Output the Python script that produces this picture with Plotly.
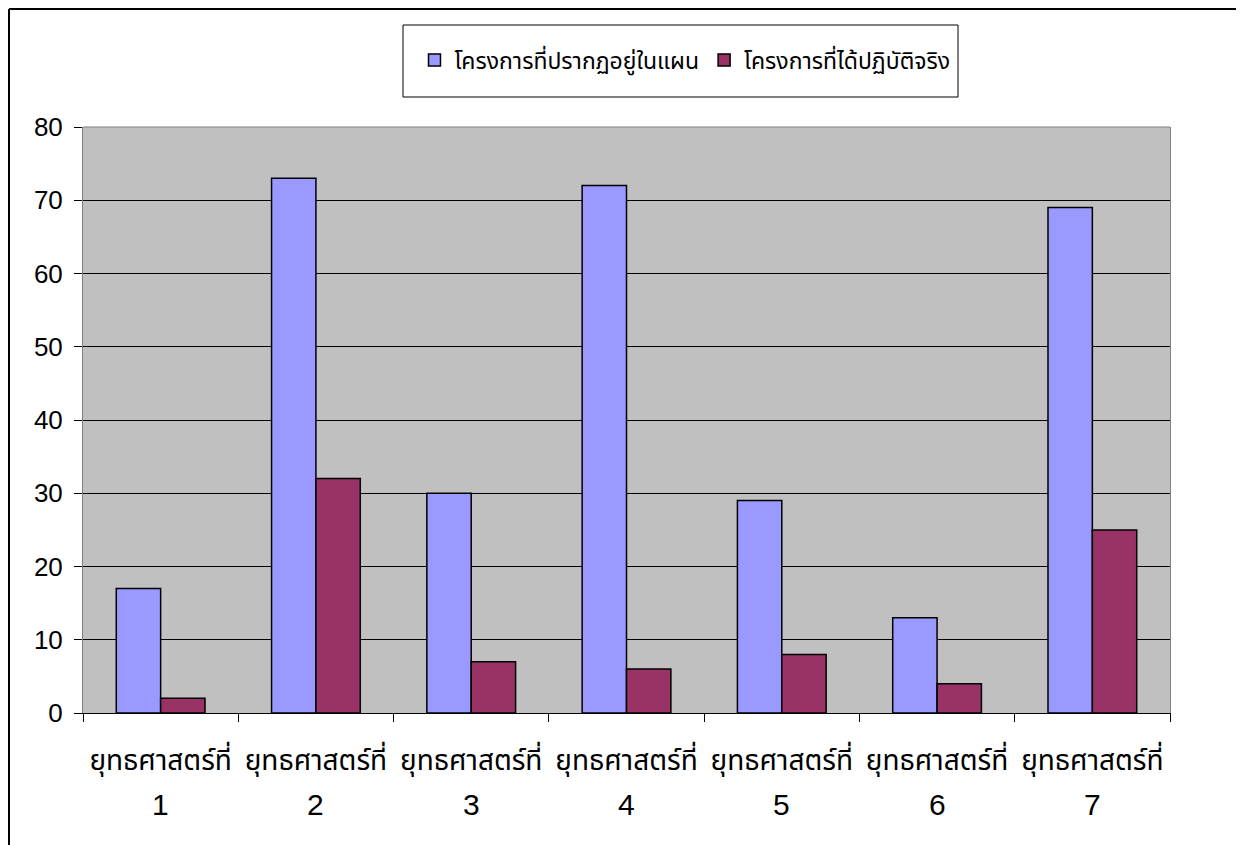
import plotly.graph_objects as go

strategy_label = "ยุทธศาสตร์ที่"
strategy_numbers = ["1", "2", "3", "4", "5", "6", "7"]
categories = [f"{strategy_label} {n}" for n in strategy_numbers]
series_names = ["โครงการที่ปรากฏอยู่ในแผน", "โครงการที่ได้ปฏิบัติจริง"]
planned = [17, 73, 30, 72, 29, 13, 69]
implemented = [2, 32, 7, 6, 8, 4, 25]
y_ticks = [0, 10, 20, 30, 40, 50, 60, 70, 80]

thai_font = "Noto Sans Thai, Tahoma, Liberation Sans, sans-serif"

# page geometry (the figure is drawn 8px in from the page corner)
W, H = 1236, 837
L, R, T, B = 75, 74, 119, 132
PW, PH = W - L - R, H - T - B


def px(xf):  # figure x pixel -> paper
    return (xf - L) / PW


def py(yf):  # figure y pixel -> paper
    return (H - B - yf) / PH


fig = go.Figure()
fig.add_trace(go.Bar(x=categories, y=planned, name=series_names[0],
                     marker=dict(color="#9999FF", line=dict(color="black", width=1.5))))
fig.add_trace(go.Bar(x=categories, y=implemented, name=series_names[1],
                     marker=dict(color="#993366", line=dict(color="black", width=1.5))))

fig.update_layout(
    width=W, height=H,
    margin=dict(l=L, r=R, t=T, b=B, autoexpand=False),
    paper_bgcolor="white", plot_bgcolor="#C0C0C0",
    barmode="group", bargap=0.4286, bargroupgap=0,
    font=dict(family="Liberation Sans, Arial, sans-serif", color="black"),
    legend=dict(orientation="h", x=px(685 - 8), xanchor="center",
                y=py(60 - 8), yanchor="middle",
                bgcolor="rgba(0,0,0,0)", borderwidth=0,
                font=dict(family=thai_font, size=23), itemwidth=30,
                traceorder="normal"),
    showlegend=True,
)
fig.update_xaxes(type="category", tickson="boundaries", ticks="outside", ticklen=8,
                 tickcolor="black", showline=True, linecolor="black", linewidth=1,
                 tickmode="array", tickvals=categories,
                 ticktext=[strategy_label] * len(categories),
                 tickfont=dict(family=thai_font, size=28), showgrid=False,
                 tickangle=0, automargin=False, ticklabelstandoff=22)
fig.update_yaxes(range=[0, 80], tickvals=y_ticks, ticks="outside", ticklen=8,
                 tickcolor="black", showline=True, linecolor="#808080", mirror=True,
                 gridcolor="black", gridwidth=1, tickfont=dict(size=26), zeroline=False,
                 automargin=False, ticklabelstandoff=6)

# second line of each category label (the strategy number)
for cat, num in zip(categories, strategy_numbers):
    fig.add_annotation(x=cat, xref="x", y=py(804 - 8), yref="paper",
                       text=num, showarrow=False, xanchor="center", yanchor="middle",
                       font=dict(family="Liberation Sans, Arial, sans-serif", size=30))

# legend box
fig.add_shape(type="rect", xref="paper", yref="paper",
              x0=px(403 - 8), x1=px(958 - 8), y0=py(97 - 8), y1=py(25 - 8),
              line=dict(color="black", width=1), fillcolor="rgba(0,0,0,0)")
# chart frame (top and left edges visible)
fig.add_shape(type="line", xref="paper", yref="paper",
              x0=px(1), x1=px(W), y0=py(1), y1=py(1), line=dict(color="black", width=2))
fig.add_shape(type="line", xref="paper", yref="paper",
              x0=px(1), x1=px(1), y0=py(1), y1=py(H), line=dict(color="black", width=2))
# gray top border of plot area
fig.add_shape(type="line", xref="paper", yref="paper", x0=0, x1=1, y0=1, y1=1,
              line=dict(color="#808080", width=1))

fig.write_html("out.html")
